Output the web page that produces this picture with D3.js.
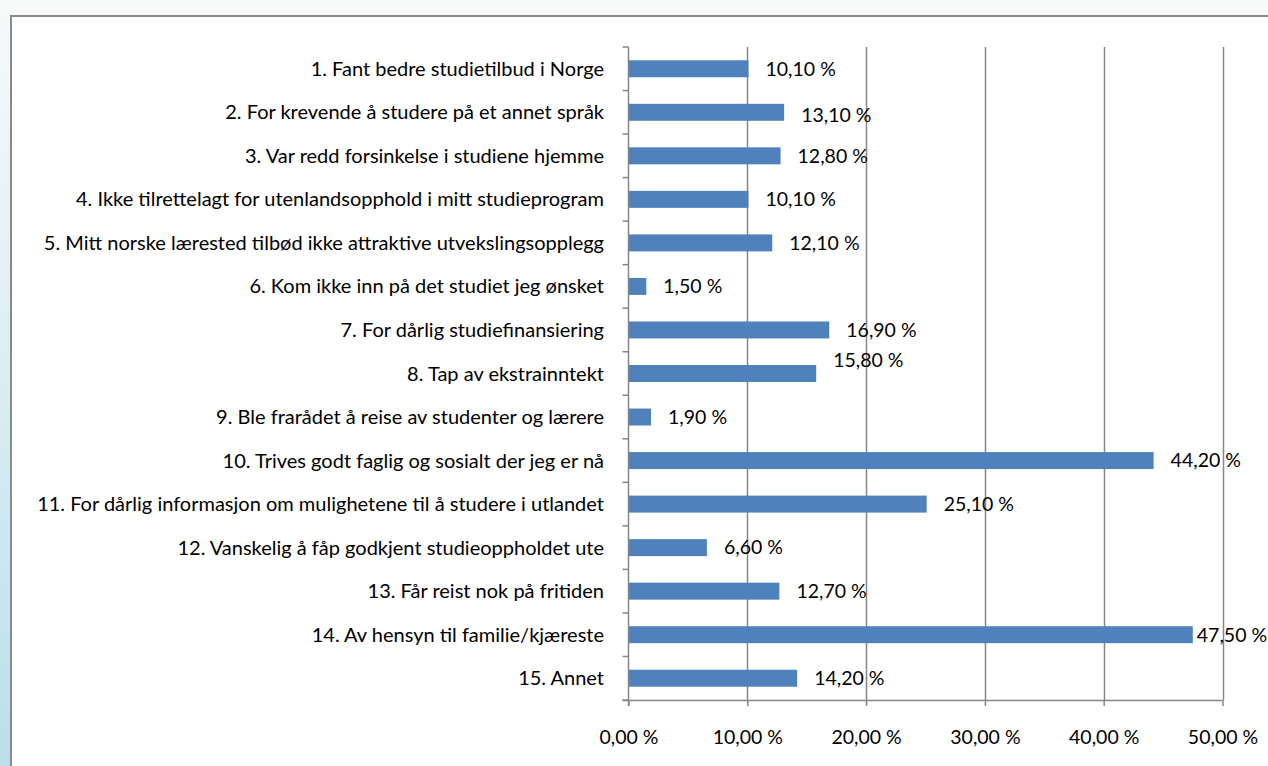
<!DOCTYPE html>
<html><head><meta charset="utf-8">
<script src="https://cdn.jsdelivr.net/npm/d3@7/dist/d3.min.js"></script>
<style>
html,body{margin:0;padding:0;background:#fff;overflow:hidden;}
svg{display:block;}
text{font-family:Lato,"Open Sans",sans-serif;fill:#000;}
</style></head>
<body>
<svg id="c" width="1268" height="766"></svg>
<script>
const categories = [
  "1. Fant bedre studietilbud i Norge",
  "2. For krevende å studere på et annet språk",
  "3. Var redd forsinkelse i studiene hjemme",
  "4. Ikke tilrettelagt for utenlandsopphold i mitt studieprogram",
  "5. Mitt norske lærested tilbød ikke attraktive utvekslingsopplegg",
  "6. Kom ikke inn på det studiet jeg ønsket",
  "7. For dårlig studiefinansiering",
  "8. Tap av ekstrainntekt",
  "9. Ble frarådet å reise av studenter og lærere",
  "10. Trives godt faglig og sosialt der jeg er nå",
  "11. For dårlig informasjon om mulighetene til å studere i utlandet",
  "12. Vanskelig å fåp godkjent studieoppholdet ute",
  "13. Får reist nok på fritiden",
  "14. Av hensyn til familie/kjæreste",
  "15. Annet"
];
const values = [10.1, 13.1, 12.8, 10.1, 12.1, 1.5, 16.9, 15.8, 1.9, 44.2, 25.1, 6.6, 12.7, 47.5, 14.2];
const xTicks = [0, 10, 20, 30, 40, 50];

const fmt = v => v.toFixed(2).replace(".", ",") + " %";

const svg = d3.select("#c");
const W = 1268, H = 766;

// background
const defs = svg.append("defs");
const lg = defs.append("linearGradient").attr("id","side").attr("x1",0).attr("y1",0).attr("x2",0).attr("y2",1);
lg.append("stop").attr("offset",0).attr("stop-color","#f7f9fa");
lg.append("stop").attr("offset",0.35).attr("stop-color","#e4f1f6");
lg.append("stop").attr("offset",1).attr("stop-color","#b9dfea");
svg.append("rect").attr("width",W).attr("height",H).attr("fill","#f8f9f9");
svg.append("rect").attr("x",0).attr("y",0).attr("width",12).attr("height",H).attr("fill","url(#side)");
svg.append("rect").attr("x",11).attr("y",16).attr("width",W+10).attr("height",H+10)
  .attr("fill","#fff").attr("stroke","#8a8a8a").attr("stroke-width",2);

const m = {left:628.5, right:1222.5, top:47, bottom:700};
const x = d3.scaleLinear().domain([0,50]).range([m.left, m.right]);
const y = d3.scaleBand().domain(categories).range([m.top, m.bottom]).paddingInner(0.61).paddingOuter(0.305);

const gridC = "#868686";
const fs = "19.5px";
// gridlines
svg.append("g").selectAll("line").data(xTicks.slice(1)).join("line")
  .attr("x1", d => Math.round(x(d))+0.5).attr("x2", d => Math.round(x(d))+0.5)
  .attr("y1", m.top).attr("y2", m.bottom)
  .attr("stroke", gridC).attr("stroke-width", 1.5);

// bars
svg.append("g").selectAll("rect").data(values).join("rect")
  .attr("x", x(0)).attr("y", (d,i) => y(categories[i]))
  .attr("width", d => x(d) - x(0)).attr("height", y.bandwidth())
  .attr("fill", "#4f81bd");

// axes
const xAxis = d3.axisBottom(x).tickValues(xTicks).tickSize(6).tickFormat(fmt);
const gx = svg.append("g").attr("transform", `translate(0,${m.bottom})`).call(xAxis);
gx.select(".domain").attr("d", `M${m.left-6},0.5H${m.right}`).attr("stroke", gridC).attr("stroke-width",1.5);
gx.selectAll(".tick line").attr("stroke", gridC).attr("stroke-width",1.5);
gx.selectAll(".tick text").attr("y", 30).style("font-size",fs).style("font-family","Lato");

// left axis with boundary ticks
const bandStep = (m.bottom - m.top) / categories.length;
const boundaries = d3.range(categories.length + 1).map(i => m.top + i * bandStep);
const gy = svg.append("g");
gy.append("line").attr("x1", m.left).attr("x2", m.left).attr("y1", m.top).attr("y2", m.bottom+6)
  .attr("stroke", gridC).attr("stroke-width", 1.5);
gy.selectAll("line.t").data(boundaries).join("line").attr("class","t")
  .attr("x1", m.left-6).attr("x2", m.left).attr("y1", d=>d).attr("y2", d=>d)
  .attr("stroke", gridC).attr("stroke-width", 1.5);
gy.selectAll("text").data(categories).join("text")
  .attr("x", 604).attr("y", d => y(d) + y.bandwidth()/2).attr("dy","0.35em")
  .attr("text-anchor","end").style("font-size","20px").text(d => d);

// value labels (Excel-style nudges for a few labels)
const labelNudge = {7: [0, -13], 13: [-13, 0], 1: [0, 3]};
svg.append("g").selectAll("text").data(values).join("text")
  .attr("x", (d,i) => x(d) + 17 + (labelNudge[i] ? labelNudge[i][0] : 0))
  .attr("y", (d,i) => y(categories[i]) + y.bandwidth()/2 + (labelNudge[i] ? labelNudge[i][1] : 0))
  .attr("dy","0.35em").style("font-size",fs).text(fmt);
</script>
</body></html>
